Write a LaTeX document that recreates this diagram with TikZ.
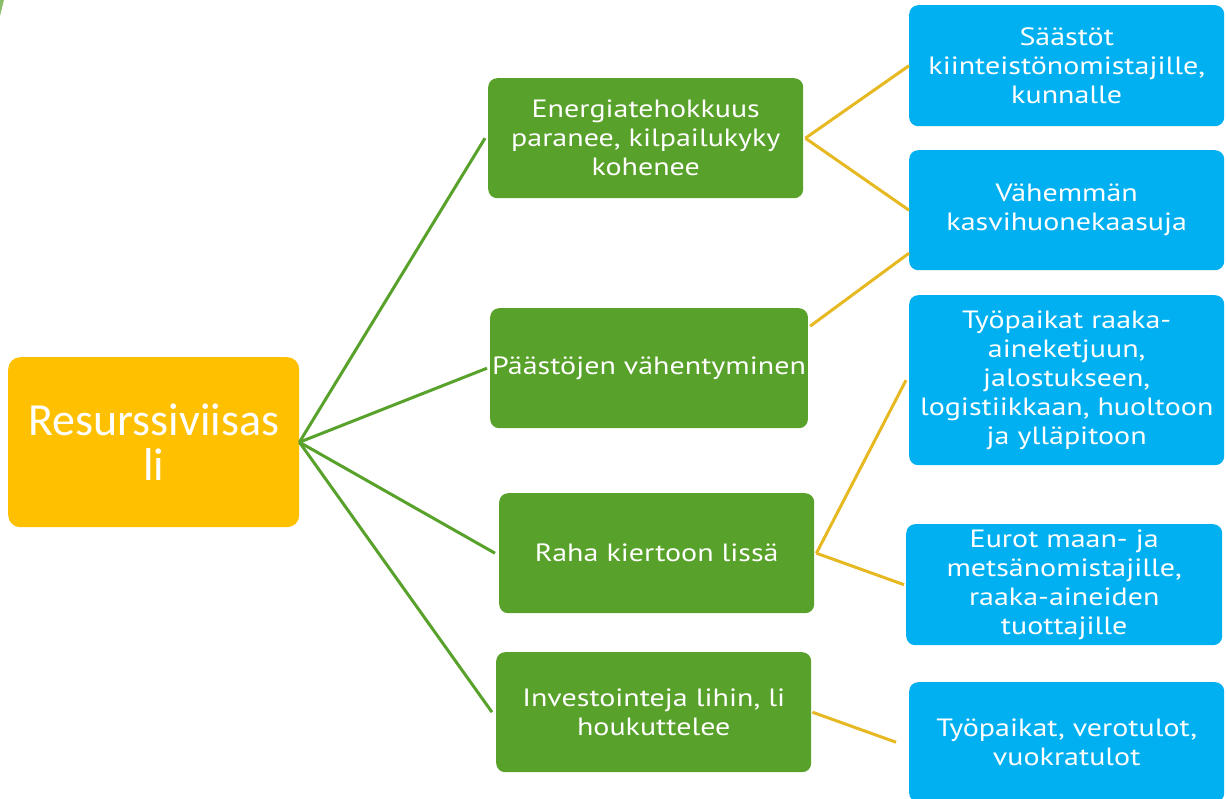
\documentclass[tikz,border=0pt]{standalone}
\usepackage{fontspec}
\setmainfont[FakeStretch=1.2]{PT Sans}
\newfontfamily\rootfont{Carlito}
\definecolor{rootyellow}{HTML}{FFC000}
\definecolor{boxgreen}{HTML}{58A12A}
\definecolor{boxblue}{HTML}{00B0F0}
\definecolor{lineyellow}{HTML}{E6B822}
\tikzset{
	effectbox/.style={fill=boxgreen, rounded corners=9pt, text=white, align=center, anchor=north west,
		minimum width=315pt, minimum height=120pt, inner sep=2pt, font=\fontsize{25}{29}\selectfont},
	resultbox/.style={effectbox, fill=boxblue},
	greenline/.style={draw=boxgreen, line width=3pt},
	yellowline/.style={draw=lineyellow, line width=3pt}
}
\begin{document}
\begin{tikzpicture}[x=1pt,y=-1pt]
		\useasboundingbox (0,0) rectangle (1226,799);
		\fill[boxgreen!70] (0,0) -- (4,0) -- (0,16) -- cycle;
		% root
		\node[fill=rootyellow, rounded corners=12pt, text=white, align=center, anchor=north west,
			minimum width=291pt, minimum height=170pt, font=\rootfont\fontsize{46}{45}\selectfont]
			(root) at (8,357) {Resurssiviisas\\li};
		% effects
		\node[effectbox] (energy) at (488,78) {Energiatehokkuus\\paranee, kilpailukyky\\kohenee};
		\node[effectbox] (emission) at (490,308) {Päästöjen vähentyminen};
		\node[effectbox] (money) at (499,493) {Raha kiertoon lissä};
		\node[effectbox] (invest) at (496,652) {Investointeja lihin, li\\houkuttelee};
		% results
		\node[resultbox, minimum height=121pt] (savings) at (909,5) {Säästöt\\kiinteistönomistajille,\\kunnalle};
		\node[resultbox] (gases) at (909,150) {Vähemmän\\kasvihuonekaasuja};
		\node[resultbox, minimum height=170pt] (jobs) at (909,295) {Työpaikat raaka-\\aineketjuun,\\jalostukseen,\\logistiikkaan, huoltoon\\ja ylläpitoon};
		\node[resultbox, minimum height=121pt, minimum width=316pt] (euros) at (906,524) {Eurot maan- ja\\metsänomistajille,\\raaka-aineiden\\tuottajille};
		\node[resultbox] (taxes) at (909,682) {Työpaikat, verotulot,\\vuokratulot};
		% connectors
		\draw[greenline] (root.east) -- ([xshift=-3pt]energy.west);
		\draw[greenline] (root.east) -- ([xshift=-3pt]emission.west);
		\draw[greenline] (root.east) -- ([xshift=-4pt]money.west);
		\draw[greenline] (root.east) -- ([xshift=-4pt]invest.west);
		\draw[yellowline] ([xshift=2pt]energy.east) -- (savings.west);
		\draw[yellowline] ([xshift=2pt]energy.east) -- (gases.west);
		\draw[yellowline] ([xshift=2pt,yshift=42pt]emission.east) -- ([yshift=-43pt]gases.west);
		\draw[yellowline] ([xshift=2pt]money.east) -- ([xshift=-3pt]jobs.west);
		\draw[yellowline] ([xshift=2pt]money.east) -- ([xshift=-2pt]euros.west);
		\draw[yellowline] ([xshift=1pt]invest.east) -- ([xshift=-13pt]taxes.west);
\end{tikzpicture}
\end{document}
